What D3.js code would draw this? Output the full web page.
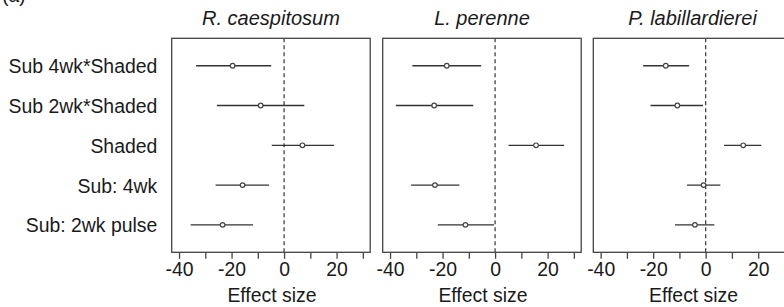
<!DOCTYPE html>
<html>
<head>
<meta charset="utf-8">
<script src="https://cdn.jsdelivr.net/npm/d3@7"></script>
<style>
  html, body { margin: 0; padding: 0; background: #fff; }
  svg { display: block; }
  text { font-family: "Liberation Sans", Arial, sans-serif; fill: #1a1a1a; }
</style>
</head>
<body>
<svg id="chart" width="784" height="307"></svg>
<script>
// ---- data ----
const terms = ["Sub 4wk*Shaded", "Sub 2wk*Shaded", "Shaded", "Sub: 4wk", "Sub: 2wk pulse"];
const species = ["R. caespitosum", "L. perenne", "P. labillardierei"];
// estimates per species (same order as terms)
const estRC = [-19.6, -8.9, 7.0, -15.8, -23.4];
const lowRC = [-33.5, -25.6, -4.7, -26.1, -35.6];
const highRC = [-4.9, 7.7, 19.0, -5.7, -11.8];
const estLP = [-18.4, -23.2, 15.6, -22.9, -11.3];
const lowLP = [-31.5, -37.8, 5.1, -32.0, -21.8];
const highLP = [-5.3, -8.3, 26.3, -13.6, -0.4];
const estPL = [-15.2, -10.8, 14.3, -0.8, -4.1];
const lowPL = [-23.8, -21.0, 7.0, -7.1, -11.7];
const highPL = [-6.3, -1.0, 21.2, 5.6, 3.3];
const tickValues = [-40, -30, -20, -10, 0, 10, 20, 30];
const tickLabels = ["-40", "", "-20", "", "0", "", "20", ""];
const xLimits = [-40, 30];
const xAxisTitle = "Effect size";
const panelTag = "(a)";

const panelData = [
  { name: species[0], est: estRC, low: lowRC, high: highRC },
  { name: species[1], est: estLP, low: lowLP, high: highLP },
  { name: species[2], est: estPL, low: lowPL, high: highPL }
];

// ---- layout ----
const svg = d3.select("#chart");
const panelLeft = [171.7, 382.7, 593.3];
const panelW = 198.5;
const plotTop = 38.3, plotBottom = 252.3;
const fs = 19.4;
const ink = "#333";

// R-style 4% axis expansion
const span = xLimits[1] - xLimits[0];
const xDomain = [xLimits[0] - 0.04 * span, xLimits[1] + 0.04 * span];

const y = d3.scalePoint().domain(terms).range([plotTop, plotBottom]).padding(0.69);

// panel tag (cropped at the top edge, as in the reference)
svg.append("text").attr("x", 2).attr("y", 2).attr("font-size", fs).text(panelTag);

// row labels
svg.append("g").selectAll("text").data(terms).join("text")
  .attr("x", 157.3)
  .attr("y", d => y(d) + 7.5)
  .attr("text-anchor", "end")
  .attr("font-size", fs)
  .text(d => d);

panelData.forEach((p, i) => {
  const x0 = panelLeft[i];
  const x = d3.scaleLinear().domain(xDomain).range([x0, x0 + panelW]);
  const g = svg.append("g");

  // title
  g.append("text")
    .attr("x", x0 + panelW / 2)
    .attr("y", 25)
    .attr("text-anchor", "middle")
    .attr("font-size", 20)
    .attr("font-style", "italic")
    .text(p.name);

  // zero reference line
  g.append("line")
    .attr("x1", x(0)).attr("x2", x(0))
    .attr("y1", plotTop).attr("y2", plotBottom)
    .attr("stroke", "#333").attr("stroke-width", 1.2)
    .attr("stroke-dasharray", "4,3");

  // CI lines
  g.selectAll("line.ci").data(terms).join("line")
    .attr("class", "ci")
    .attr("x1", (d, j) => x(p.low[j]))
    .attr("x2", (d, j) => x(p.high[j]))
    .attr("y1", d => y(d)).attr("y2", d => y(d))
    .attr("stroke", ink).attr("stroke-width", 1.3);

  // points
  g.selectAll("circle").data(terms).join("circle")
    .attr("cx", (d, j) => x(p.est[j]))
    .attr("cy", d => y(d))
    .attr("r", 2.3)
    .attr("fill", "#fff")
    .attr("stroke", "#444")
    .attr("stroke-width", 1.2);

  // box
  g.append("rect")
    .attr("x", x0).attr("y", plotTop)
    .attr("width", panelW).attr("height", plotBottom - plotTop)
    .attr("fill", "none").attr("stroke", "#444").attr("stroke-width", 1.3);

  // x axis
  const axis = d3.axisBottom(x)
    .tickValues(tickValues)
    .tickSize(6.5)
    .tickPadding(4)
    .tickFormat((d, k) => tickLabels[k]);
  const ag = g.append("g").attr("transform", `translate(0,${plotBottom})`).call(axis);
  ag.select(".domain").remove();
  ag.selectAll(".tick line").attr("stroke", "#444").attr("stroke-width", 1.3);
  ag.selectAll(".tick text")
    .attr("font-size", fs)
    .attr("font-family", "Liberation Sans, Arial, sans-serif")
    .attr("fill", "#1a1a1a")
    .attr("dy", null)
    .attr("y", 24);

  // axis title
  g.append("text")
    .attr("x", x0 + panelW / 2 + 1)
    .attr("y", 301.5)
    .attr("text-anchor", "middle")
    .attr("font-size", fs)
    .text(xAxisTitle);
});
</script>
</body>
</html>
